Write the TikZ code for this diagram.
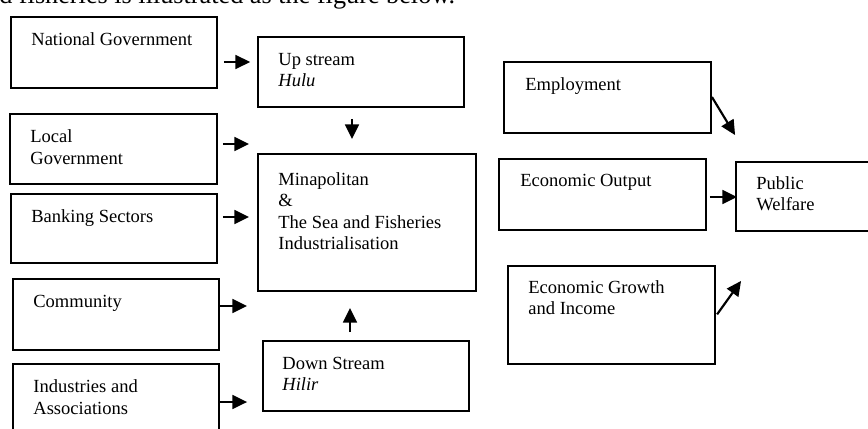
\documentclass[tikz,border=0pt]{standalone}
\usepackage{fontspec}
\setmainfont{Liberation Serif}
\usetikzlibrary{arrows.meta,positioning,fit,calc}
\tikzset{
  block/.style={draw, rectangle, line width=1.2pt, inner sep=0pt},
  blocktext/.style={anchor=north west, align=left, inner sep=0pt, font=\fontsize{12}{13.9}\selectfont},
  bodytext/.style={anchor=base west, inner sep=0pt, font=\fontsize{17}{20}\selectfont},
  arrow/.style={-{Triangle[length=9.5pt, width=9pt]}, line width=1.4pt}
}

\begin{document}
\begin{tikzpicture}[x=0.648pt,y=-0.648pt]
  \useasboundingbox (0,0) rectangle (868,429);
  \clip (0,0) rectangle (868,429);
  \node[bodytext] (intro) at (-1,4) {d fisheries is illustrated as the figure below.};
  \node[block,fit={(11,17) (217,88)}] (natgov) {};
  \node[block,fit={(10,114) (217,184)}] (localgov) {};
  \node[block,fit={(11,194) (217,263)}] (banking) {};
  \node[block,fit={(13,279) (219,350)}] (community) {};
  \node[block,fit={(13,364) (219,445)}] (industry) {};
  \node[block,fit={(258,37) (464,107)}] (upstream) {};
  \node[block,fit={(258,154) (476,291)}] (mina) {};
  \node[block,fit={(263,341) (469,411)}] (downstream) {};
  \node[block,fit={(504,62) (711,133)}] (employ) {};
  \node[block,fit={(499,159) (706,230)}] (output) {};
  \node[block,fit={(508,266) (715,364)}] (growth) {};
  \node[block,fit={(736,162) (880,231)}] (welfare) {};
  \node[blocktext] (natgovtxt) at ($(natgov.north west)+(21,16.5)$) {National Government};
  \node[blocktext] (localgovtxt) at ($(localgov.north west)+(21,16.5)$) {Local\\Government};
  \node[blocktext] (bankingtxt) at ($(banking.north west)+(21,16.5)$) {Banking Sectors};
  \node[blocktext] (communitytxt) at ($(community.north west)+(21,16.5)$) {Community};
  \node[blocktext] (industrytxt) at ($(industry.north west)+(21,16.5)$) {Industries and\\Associations};
  \node[blocktext] (upstreamtxt) at ($(upstream.north west)+(21,16.5)$) {Up stream\\\textit{Hulu}};
  \node[blocktext] (minatxt) at ($(mina.north west)+(21,19)$) {Minapolitan\\\&\\The Sea and Fisheries\\Industrialisation};
  \node[blocktext] (downstreamtxt) at ($(downstream.north west)+(20,16.5)$) {Down Stream\\\textit{Hilir}};
  \node[blocktext] (employtxt) at ($(employ.north west)+(22,16)$) {Employment};
  \node[blocktext] (outputtxt) at ($(output.north west)+(22,16)$) {Economic Output};
  \node[blocktext] (growthtxt) at ($(growth.north west)+(21,15)$) {Economic Growth\\and Income};
  \node[blocktext] (welfaretxt) at ($(welfare.north west)+(21,15)$) {Public\\Welfare};
  \draw[arrow,shorten <=3.9pt,shorten >=4.5pt] (natgov.east |- 0,62) -- (upstream.west |- 0,62);
  \draw[arrow,shorten <=7.1pt,shorten >=9.1pt] (upstream.south -| 352,0) -- (mina.north -| 352,0);
  \draw[arrow,shorten <=3.2pt,shorten >=5.2pt] (localgov.east |- 0,144) -- (mina.west |- 0,144);
  \draw[arrow,shorten <=3.2pt,shorten >=5.2pt] (banking.east |- 0,217) -- (mina.west |- 0,217);
  \draw[arrow,shorten >=6.5pt] (community.east |- 0,306) -- (mina.west |- 0,306);
  \draw[arrow,shorten >=9.7pt] (industry.east |- 0,402) -- (downstream.west |- 0,402);
  \draw[arrow,shorten <=5.2pt,shorten >=10.4pt] (downstream.north -| 350,0) -- (mina.south -| 350,0);
  \draw[arrow] (employ.east |- 0,97) -- ($(welfare.north west)+(0,-26)$);
  \draw[arrow,shorten <=1.9pt,shorten >=-1.3pt] (output.east |- 0,197) -- (welfare.west |- 0,197);
  \draw[arrow,shorten <=1.3pt] (growth.east |- 0,316) -- ($(welfare.south west)+(6,49)$);
\end{tikzpicture}
\end{document}
